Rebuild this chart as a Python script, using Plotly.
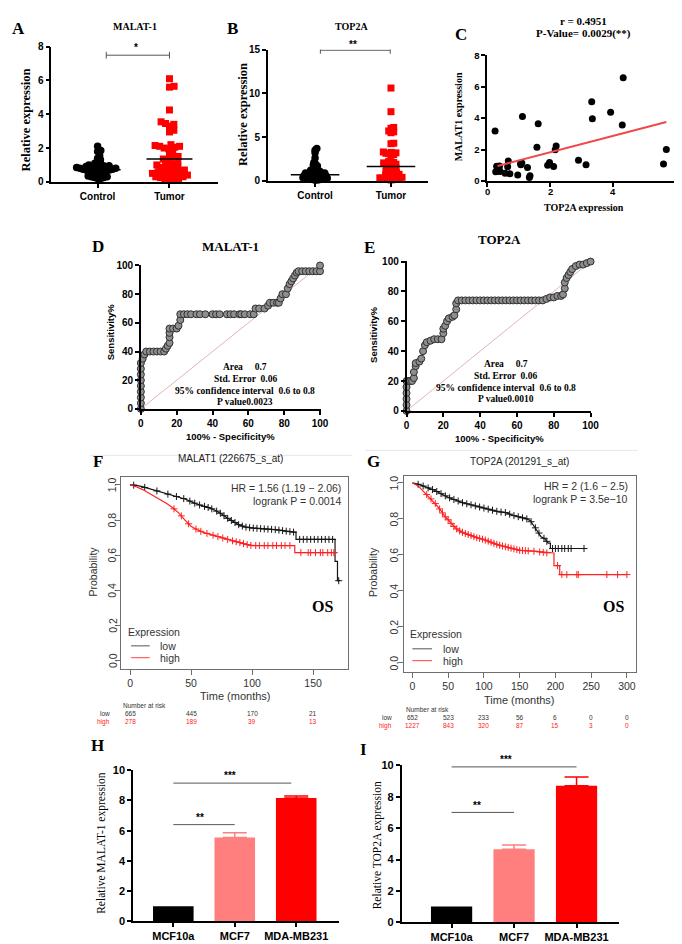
import numpy as np
import plotly.graph_objects as go

W, H = 682, 944

# ---------------- data ----------------
groups = ["Control", "Tumor"]
a_control = [2.1, 1.85, 1.8, 1.55, 1.4, 1.3, 1.2, 1.1, 1.05, 1.0, 1.0, 0.95, 0.95, 0.9, 0.9, 0.9,
             0.85, 0.85, 0.85, 0.8, 0.8, 0.8, 0.8, 0.75, 0.75, 0.75, 0.7, 0.7, 0.7, 0.7, 0.65, 0.65,
             0.6, 0.6, 0.55, 0.5, 0.5, 0.45, 0.4, 0.35, 0.3, 0.3, 0.25, 0.25, 0.2, 0.2]
a_tumor = [6.1, 5.65, 5.6, 4.25, 3.55, 3.45, 3.4, 3.3, 3.05, 2.95, 2.2, 2.15, 2.1, 2.1, 2.05, 2.0,
           1.95, 1.8, 1.6, 1.5, 1.45, 1.35, 1.3, 1.2, 1.1, 1.05, 1.0, 0.95, 0.9, 0.85, 0.8, 0.75,
           0.7, 0.65, 0.6, 0.55, 0.5, 0.5, 0.45, 0.4, 0.4, 0.35, 0.3, 0.3, 0.25, 0.2, 0.15, 0.1, 0.1]
a_median = [0.72, 1.35]

b_control = [3.7, 3.5, 3.2, 2.6, 2.1, 1.9, 1.8, 1.7, 1.6, 1.3, 1.2, 1.1, 1.05, 1.0, 0.95, 0.9, 0.9,
             0.85, 0.8, 0.8, 0.75, 0.7, 0.7, 0.65, 0.6, 0.6, 0.55, 0.5, 0.5, 0.45, 0.45, 0.4, 0.4,
             0.35, 0.35, 0.3, 0.3, 0.25, 0.25, 0.2, 0.2, 0.15, 0.15, 0.1, 0.1]
b_tumor = [10.6, 7.9, 6.1, 6.0, 5.7, 5.6, 5.5, 4.3, 4.25, 3.3, 3.25, 3.2, 3.15, 3.1, 3.0, 2.9, 2.2,
           2.1, 2.05, 2.0, 2.0, 1.9, 1.8, 1.7, 1.6, 1.6, 1.5, 1.4, 1.3, 1.2, 1.1, 1.0, 0.95, 0.9,
           0.8, 0.75, 0.7, 0.6, 0.55, 0.5, 0.45, 0.4, 0.35, 0.3, 0.3, 0.25, 0.2, 0.2, 0.15, 0.1]
b_median = [0.7, 1.64]

c_top2a = [0.25, 1.12, 1.62, 1.58, 3.32, 3.34, 3.92, 4.32, 4.29, 5.60, 5.69, 2.90, 3.14, 2.19, 2.16,
           2.11, 1.98, 1.92, 1.28, 1.36, 1.34, 1.06, 1.10, 1.07, 0.67, 0.65, 0.72, 0.57, 0.39, 0.37,
           0.33, 0.41, 0.27, 0.30, 0.97]
c_malat1 = [3.18, 4.10, 3.64, 2.15, 5.05, 3.96, 4.37, 6.58, 3.56, 1.07, 2.00, 1.32, 1.02, 2.23, 1.98,
            0.92, 1.17, 1.00, 0.86, 0.32, 0.22, 1.10, 1.14, 1.03, 1.26, 0.90, 0.46, 0.49, 0.95, 0.80,
            0.62, 0.60, 0.58, 0.93, 0.37]
c_fit_x = [0.33, 5.69]
c_fit_y = [0.95, 3.75]
c_xticks = [0, 2, 4, 6]

d_fpr = [0, 0, 0, 0, 0, 0, 0, 0, 0, 1, 2, 3, 5, 7, 9, 11, 13, 14, 15, 16, 16, 16, 16, 18, 20, 21, 22, 22,
         24, 26, 28, 31, 33, 36, 40, 42, 44, 48, 50, 52, 55, 56, 58, 61, 63, 64, 66, 69, 71, 72, 74, 76,
         77, 78, 79, 81, 82, 83, 84, 85, 86, 87, 88, 90, 92, 94, 96, 98, 100, 100]
d_tpr = [0, 4, 8, 12, 16, 20, 24, 28, 32, 35, 38, 40, 40, 40, 40, 40, 40, 42, 44, 46, 50, 53, 56, 56, 56,
         58, 62, 66, 66, 66, 66, 66, 66, 66, 66, 66, 66, 66, 66, 66, 66, 66, 66, 66, 66, 70, 70, 70, 72,
         74, 74, 74, 74, 77, 80, 80, 84, 87, 89, 91, 93, 95, 96, 96, 96, 96, 96, 96, 96, 100]
d_stats = ["Area     0.7", "Std. Error  0.06", "95% confidence interval  0.6 to 0.8", "P value0.0023"]

e_fpr = [0, 0, 0, 0, 0, 0, 1, 2, 3, 4, 4, 5, 5, 7, 8, 9, 10, 11, 13, 15, 17, 19, 20, 20, 21, 22, 23, 25,
         26, 27, 27, 28, 30, 32, 34, 36, 38, 40, 42, 44, 46, 48, 50, 52, 54, 56, 58, 60, 62, 64, 66, 68,
         70, 72, 74, 76, 78, 80, 82, 84, 85, 86, 86, 87, 88, 89, 90, 92, 94, 96, 98, 100]
e_tpr = [0, 4, 8, 12, 16, 20, 20, 20, 20, 22, 26, 30, 32, 33, 35, 40, 44, 46, 47, 48, 48, 48, 52, 55, 57,
         60, 62, 63, 64, 68, 72, 74, 74, 74, 74, 74, 74, 74, 74, 74, 74, 74, 74, 74, 74, 74, 74, 74, 74,
         74, 74, 74, 74, 74, 74, 75, 76, 76, 77, 77, 78, 82, 86, 89, 91, 93, 95, 97, 98, 98, 99, 100]
e_stats = ["Area     0.7", "Std. Error  0.06", "95% confidence interval  0.6 to 0.8", "P value0.0010"]

# Kaplan-Meier (F: MALAT1, G: TOP2A)
f_low_t = [0, 5, 10, 15, 20, 25, 30, 35, 40, 45, 50, 55, 60, 65, 70, 75, 80, 85, 90, 95, 100, 110, 120,
           130, 136, 136, 168, 168, 170, 170, 172]
f_low_s = [1.0, 0.998, 0.99, 0.98, 0.97, 0.96, 0.95, 0.94, 0.93, 0.92, 0.905, 0.89, 0.88, 0.87, 0.855,
           0.835, 0.81, 0.79, 0.77, 0.76, 0.755, 0.75, 0.745, 0.735, 0.73, 0.69, 0.69, 0.565, 0.565,
           0.455, 0.455]
f_high_t = [0, 5, 10, 15, 20, 25, 30, 35, 40, 45, 50, 55, 60, 65, 70, 75, 80, 85, 90, 95, 100, 135, 135, 170]
f_high_s = [1.0, 0.99, 0.975, 0.955, 0.935, 0.915, 0.895, 0.87, 0.84, 0.80, 0.765, 0.745, 0.73, 0.72,
            0.71, 0.70, 0.69, 0.68, 0.672, 0.662, 0.655, 0.655, 0.615, 0.615]
f_low_cens = [3, 12, 22, 31, 38, 44, 49, 53, 57, 61, 64, 67, 71, 74, 77, 80, 83, 86, 89, 92, 95, 98, 101,
              104, 107, 110, 113, 116, 119, 122, 125, 128, 131, 134, 139, 142, 145, 148, 151, 154, 157,
              160, 163, 166, 171]
f_high_cens = [36, 42, 48, 54, 58, 63, 68, 72, 76, 80, 84, 87, 90, 93, 96, 99, 103, 106, 110, 113, 117,
               120, 124, 127, 131, 140, 146, 148, 152, 156, 158, 162, 165, 167]
f_ticks = [0, 50, 100, 150]
f_risk_low = ["665", "445", "170", "21"]
f_risk_high = ["278", "189", "39", "13"]
f_hr = ["HR = 1.56 (1.19 \u2212 2.06)", "logrank P = 0.0014"]

g_low_t = [0, 10, 20, 30, 40, 50, 60, 70, 80, 90, 100, 110, 120, 130, 140, 150, 160, 165, 170, 175,
           180, 185, 190, 193, 193, 240]
g_low_s = [1.0, 0.99, 0.975, 0.96, 0.94, 0.92, 0.905, 0.89, 0.88, 0.87, 0.86, 0.85, 0.84, 0.835, 0.82,
           0.81, 0.80, 0.79, 0.76, 0.735, 0.70, 0.69, 0.665, 0.665, 0.635, 0.635]
g_high_t = [0, 5, 10, 15, 20, 25, 30, 35, 40, 45, 50, 55, 60, 65, 70, 80, 90, 100, 110, 120, 130, 140,
            150, 170, 190, 198, 198, 206, 206, 300]
g_high_s = [1.0, 0.99, 0.975, 0.955, 0.935, 0.915, 0.895, 0.87, 0.845, 0.815, 0.795, 0.77, 0.75, 0.735,
            0.725, 0.71, 0.695, 0.685, 0.67, 0.655, 0.645, 0.635, 0.625, 0.62, 0.61, 0.61, 0.54, 0.54,
            0.49, 0.49]
g_low_cens = [8, 15, 22, 28, 34, 40, 46, 52, 58, 64, 70, 76, 82, 88, 94, 100, 106, 112, 118, 124, 130,
              136, 142, 148, 154, 160, 166, 172, 177, 184, 188, 196, 200, 204, 209, 213, 218, 222, 240]
g_high_cens = [20, 26, 32, 38, 42, 46, 50, 54, 58, 62, 66, 70, 74, 78, 82, 86, 90, 94, 98, 102, 106,
               110, 114, 118, 122, 126, 130, 134, 138, 142, 146, 150, 154, 158, 162, 170, 178, 183, 188,
               203, 209, 216, 230, 232, 272, 287, 300]
g_ticks = [0, 50, 100, 150, 200, 250, 300]
g_risk_low = ["652", "523", "233", "56", "6", "0", "0"]
g_risk_high = ["1227", "843", "320", "87", "15", "3", "0"]
g_hr = ["HR = 2 (1.6 \u2212 2.5)", "logrank P = 3.5e\u221210"]
km_prob_ticks = [0.0, 0.2, 0.4, 0.6, 0.8, 1.0]

cell_lines = ["MCF10a", "MCF7", "MDA-MB231"]
h_values = [1.0, 5.55, 8.17]
h_err = [0.0, 0.32, 0.13]
i_values = [1.0, 4.65, 8.7]
i_err = [0.0, 0.27, 0.55]
bar_colors = ["#000000", "#ff7f7f", "#ff0000"]

# ---------------- helpers ----------------
SERIF = "Liberation Serif"
SANS = "Liberation Sans"

fig = go.Figure()
layout = dict(width=W, height=H, margin=dict(l=0, r=0, t=0, b=0), showlegend=False,
              paper_bgcolor="white", plot_bgcolor="white", font=dict(family=SANS, color="black"))
annotations = []
shapes = []


def sfx(n):
    return "" if n == 1 else str(n)


def make_axes(n, xl, xr, yb, yt, xrange, yrange, xstyle, ystyle):
    xa = dict(domain=[xl / W, xr / W], anchor="y" + sfx(n), range=xrange, ticklabeloverflow="allow")
    ya = dict(domain=[1 - yb / H, 1 - yt / H], anchor="x" + sfx(n), range=yrange, ticklabeloverflow="allow")
    xa.update(xstyle)
    ya.update(ystyle)
    layout["xaxis" + sfx(n)] = xa
    layout["yaxis" + sfx(n)] = ya


def ann(x, y, text, size, family=SANS, bold=False, color="black", angle=0, xanchor="center",
        yanchor="middle", xref="paper", yref="paper"):
    if xref == "paper":
        x = x / W
    if yref == "paper":
        y = 1 - y / H
    annotations.append(dict(x=x, y=y, xref=xref, yref=yref, text=text, showarrow=False,
                            textangle=angle, xanchor=xanchor, yanchor=yanchor,
                            font=dict(family=family, size=size, color=color,
                                      weight="bold" if bold else "normal")))


def gp_style(size=10, tickvals=None, ticktext=None, labels=True):
    st = dict(showline=True, linecolor="black", linewidth=1.5, ticks="outside", ticklen=4,
              tickwidth=1.5, tickcolor="black", showgrid=False, zeroline=False, showticklabels=labels,
              tickfont=dict(family=SANS, size=size, color="black", weight="bold"))
    if tickvals is not None:
        st["tickvals"] = tickvals
    if ticktext is not None:
        st["ticktext"] = ticktext
    return st


def km_style(tickvals, labels=True):
    return dict(showline=True, mirror=True, linecolor="#6e6e6e", linewidth=1, ticks="outside",
                ticklen=5, tickcolor="#6e6e6e", showgrid=False, zeroline=False, tickvals=tickvals,
                showticklabels=labels, tickfont=dict(family=SANS, size=10.5, color="#333333"))


def swarm(vals, ypx, xpx, d):
    vals = np.asarray(vals, dtype=float)
    order = np.argsort(vals)
    placed = []
    offs = np.zeros(len(vals))
    for i in order:
        y = vals[i] * ypx
        cands = [0.0]
        for xo, yo in placed:
            dy = abs(y - yo)
            if dy < d:
                dx = np.sqrt(d * d - dy * dy)
                cands += [xo + dx, xo - dx]
        cands.sort(key=abs)
        chosen = 0.0
        for c in cands:
            if all((c - xo) ** 2 + (y - yo) ** 2 >= d * d - 1e-6 for xo, yo in placed):
                chosen = c
                break
        placed.append((chosen, y))
        offs[i] = chosen
    return offs / xpx


def scatter_panel(n, ctrl, tum, med, xpx, ypx, ymax, sig_x, sig_y, sig_tick, star, star_xy, dd):
    xa, ya = "x" + sfx(n), "y" + sfx(n)
    for gi, (vals, sym, col) in enumerate([(ctrl, "circle", "black"), (tum, "square", "#ff0000")]):
        xs = gi + 1 + swarm(vals, ypx, xpx, dd[gi])
        fig.add_trace(go.Scatter(x=xs, y=vals, mode="markers", xaxis=xa, yaxis=ya, cliponaxis=False,
                                 marker=dict(symbol=sym, size=7.5 if gi == 0 else 7, color=col,
                                             line=dict(width=0))))
    for gi, m in enumerate(med):
        fig.add_trace(go.Scatter(x=[gi + 1 - 0.32, gi + 1 + 0.32], y=[m, m], mode="lines", xaxis=xa,
                                 yaxis=ya, line=dict(color="black", width=1.5)))
    fig.add_trace(go.Scatter(
        x=[sig_x[0], sig_x[1], None, sig_x[0], sig_x[0], None, sig_x[1], sig_x[1]],
        y=[sig_y, sig_y, None, sig_y - sig_tick, sig_y + sig_tick, None, sig_y - sig_tick, sig_y + sig_tick],
        mode="lines", xaxis=xa, yaxis=ya, cliponaxis=False, line=dict(color="#555555", width=1)))
    ann(star_xy[0], star_xy[1] / ymax, star, 10, bold=True, xref=xa, yref=ya + " domain")


# ---------------- A ----------------
make_axes(1, 41, 210, 170, 33, [0.356, 2.67], [0, 8],
          gp_style(10, [1, 2], groups), gp_style(10, [0, 2, 4, 6, 8]))
scatter_panel(1, a_control, a_tumor, a_median, 73, 17.125, 8, [1.12, 2.0], 7.49, 0.2, "*", (1.54, 7.92),
              (3.3, 4.8))

# ---------------- B ----------------
make_axes(2, 261, 424, 169, 36, [0.377, 2.49], [0, 15],
          gp_style(10, [1, 2], groups), gp_style(10, [0, 5, 10, 15]))
scatter_panel(2, b_control, b_tumor, b_median, 77, 8.87, 15, [1.07, 1.99], 14.92, 0.4, "**", (1.5, 15.55),
              (2.5, 2.9))

# ---------------- C ----------------
make_axes(3, 484, 676, 169, 42, [0, 6.0], [0, 8],
          gp_style(9.5, c_xticks, labels=False), gp_style(9.5, [0, 2, 4, 6, 8]))
fig.add_trace(go.Scatter(x=c_top2a, y=c_malat1, mode="markers", xaxis="x3", yaxis="y3", cliponaxis=False,
                         marker=dict(size=7, color="black")))
fig.add_trace(go.Scatter(x=c_fit_x, y=c_fit_y, mode="lines", xaxis="x3", yaxis="y3",
                         line=dict(color="#f04848", width=2)))
for tv in c_xticks:
    ann(tv, 180, str(tv), 9.5, bold=True, xref="x3")

# ---------------- D & E (ROC) ----------------
for n, fx, fy, stats, box, cx, sy in [(4, d_fpr, d_tpr, d_stats, (132, 315, 400, 254), 238, [358, 370, 382, 393]),
                                      (5, e_fpr, e_tpr, e_stats, (402, 590, 402, 250), 503, [355, 367, 379, 390])]:
    make_axes(n, box[0], box[1], box[2], box[3], [0, 100.5], [0, 100.5],
              gp_style(10, [0, 20, 40, 60, 80, 100]), gp_style(10, [0, 20, 40, 60, 80, 100]))
    xa, ya = "x" + sfx(n), "y" + sfx(n)
    fig.add_trace(go.Scatter(x=[0, 100], y=[0, 100], mode="lines", xaxis=xa, yaxis=ya,
                             line=dict(color="#e2b4b4", width=1)))
    fig.add_trace(go.Scatter(x=fx, y=fy, mode="lines+markers", xaxis=xa, yaxis=ya, cliponaxis=False,
                             line=dict(color="#3c3c3c", width=1.5),
                             marker=dict(size=7, color="#8e8e8e", line=dict(color="#303030", width=1))))
    for txt, yy in zip(stats, sy):
        ann(cx, yy, txt, 9.5, family=SERIF, bold=True)

# ---------------- F & G (Kaplan-Meier) ----------------
km_cfg = [
    (6, (112, 343, 663, 469), [-7.26, 179.0], [-0.045, 1.045], f_low_t, f_low_s, f_high_t, f_high_s,
     f_low_cens, f_high_cens, f_ticks, f_risk_low, f_risk_high, f_hr,
     dict(title=(223, 450, "MALAT1 (226675_s_at)"), hr=(337, 480, 493), os=(317, 600), prob=(83, 565),
          ylab=103, time=(228, 691), risk=(112, 700, 708, 717, 103),
          leg=(117, 626, 122, 141, 149, 640, 652))),
    (7, (399, 635, 666, 468), [-12.4, 312.4], [-0.049, 1.038], g_low_t, g_low_s, g_high_t, g_high_s,
     g_low_cens, g_high_cens, g_ticks, g_risk_low, g_risk_high, g_hr,
     dict(title=(517, 453, "TOP2A (201291_s_at)"), hr=(629, 478, 491), os=(612, 600), prob=(368, 565),
          ylab=389, time=(517, 695), risk=(399, 704, 713, 721, 389),
          leg=(404, 628, 408, 428, 437, 643, 655))),
]
for (n, box, xr, yr, lt, ls, ht, hs, lc, hc, ticks, rl, rh, hr, pos) in km_cfg:
    make_axes(n, box[0], box[1], box[2], box[3], xr, yr,
              km_style(ticks), km_style(km_prob_ticks, labels=False))
    xa, ya = "x" + sfx(n), "y" + sfx(n)
    for t, s, cens, col in [(lt, ls, lc, "#151515"), (ht, hs, hc, "#ff2020")]:
        fig.add_trace(go.Scatter(x=t, y=s, mode="lines", xaxis=xa, yaxis=ya,
                                 line=dict(color=col, width=1.2)))
        cy = np.interp(cens, t, s)
        fig.add_trace(go.Scatter(x=cens, y=cy, mode="markers", xaxis=xa, yaxis=ya,
                                 marker=dict(symbol="cross-thin", size=5, line=dict(color=col, width=1))))
    for tv in km_prob_ticks:
        ann(pos["ylab"], tv, f"{tv:.1f}", 10.5, color="#333333", angle=-90, yref=ya)
    ann(pos["title"][0], pos["title"][1], pos["title"][2], 10, color="#222222")
    ann(pos["hr"][0], pos["hr"][1], hr[0], 10.5, color="#333333", xanchor="right")
    ann(pos["hr"][0], pos["hr"][2], hr[1], 10.5, color="#333333", xanchor="right")
    ann(pos["os"][0], pos["os"][1], "OS", 16, family=SERIF, bold=True)
    ann(pos["prob"][0], pos["prob"][1], "Probability", 10.5, color="#333333", angle=-90)
    ann(pos["time"][0], pos["time"][1], "Time (months)", 11, color="#333333")
    r = pos["risk"]
    ann(r[0], r[1], "Number at risk", 6.5, color="#333333", xanchor="left")
    ann(r[4], r[2], "low", 6.5, color="#333333", xanchor="right")
    ann(r[4], r[3], "high", 6.5, color="#ff2020", xanchor="right")
    for tv, lo, hi in zip(ticks, rl, rh):
        ann(tv, r[2], lo, 6.5, color="#333333", xref=xa)
        ann(tv, r[3], hi, 6.5, color="#ff2020", xref=xa)
    lg = pos["leg"]
    ann(lg[0], lg[1], "Expression", 10.5, color="#333333", xanchor="left")
    ann(lg[4], lg[5], "low", 10.5, color="#333333", xanchor="left")
    ann(lg[4], lg[6], "high", 10.5, color="#333333", xanchor="left")
    shapes.append(dict(type="line", xref="paper", yref="paper", x0=lg[2] / W, x1=lg[3] / W,
                       y0=1 - lg[5] / H, y1=1 - lg[5] / H, line=dict(color="#555555", width=1)))
    shapes.append(dict(type="line", xref="paper", yref="paper", x0=lg[2] / W, x1=lg[3] / W,
                       y0=1 - lg[6] / H, y1=1 - lg[6] / H, line=dict(color="#ff4040", width=1)))

# faint separators above F and G
shapes.append(dict(type="line", xref="paper", yref="paper", x0=80 / W, x1=347 / W, y0=1 - 447 / H,
                   y1=1 - 447 / H, line=dict(color="#e6e6e6", width=1)))
shapes.append(dict(type="line", xref="paper", yref="paper", x0=360 / W, x1=637 / W, y0=1 - 442 / H,
                   y1=1 - 442 / H, line=dict(color="#e6e6e6", width=1)))

# ---------------- H & I (bars) ----------------
bar_cfg = [
    (8, (124, 333, 919, 766), [-0.656, 2.69], h_values, h_err,
     [(0.0, 1.0, 6.4, "**", 0.43, 6.85), (0.0, 1.92, 9.15, "***", 0.93, 9.65)]),
    (9, (397, 618, 920, 761), [-0.8, 2.68], i_values, i_err,
     [(0.0, 1.0, 7.0, "**", 0.4, 7.45), (0.0, 2.0, 9.9, "***", 0.87, 10.35)]),
]
for n, box, xr, vals, errs, sigs in bar_cfg:
    make_axes(n, box[0], box[1], box[2], box[3], xr, [0, 10],
              gp_style(11, [0, 1, 2], cell_lines), gp_style(11, [0, 2, 4, 6, 8, 10]))
    xa, ya = "x" + sfx(n), "y" + sfx(n)
    for k in range(3):
        fig.add_trace(go.Bar(x=[k], y=[vals[k]], width=0.66, xaxis=xa, yaxis=ya,
                             marker=dict(color=bar_colors[k], line=dict(width=0)),
                             error_y=dict(type="data", symmetric=False, array=[errs[k]], arrayminus=[0],
                                          color=bar_colors[k], thickness=1.5, width=12,
                                          visible=errs[k] > 0)))
    for x0, x1, yv, star, sx, sy in sigs:
        fig.add_trace(go.Scatter(x=[x0, x1], y=[yv, yv], mode="lines", xaxis=xa, yaxis=ya,
                                 cliponaxis=False, line=dict(color="#555555", width=1)))
        ann(sx, sy / 10, star, 10, bold=True, xref=xa, yref=ya + " domain")

# ---------------- text ----------------
for letter, x, y in [("A", 8, 15), ("B", 225, 15), ("C", 457, 21), ("D", 88, 235), ("E", 364, 236),
                     ("F", 88, 453), ("G", 368, 453), ("H", 88, 741), ("I", 358, 745)]:
    ann(x, y, letter, 17, family=SERIF, bold=True)

ann(126, 13, "MALAT-1", 10, family=SERIF, bold=True)
ann(346, 13, "TOP2A", 10, family=SERIF, bold=True)
ann(582, 7, "r = 0.4951", 11, family=SERIF, bold=True)
ann(582, 20, "P-Value= 0.0029(**)", 11, family=SERIF, bold=True)
ann(223, 235, "MALAT-1", 13, family=SERIF, bold=True)
ann(497, 228, "TOP2A", 13, family=SERIF, bold=True)

ann(15, 107, "Relative expression", 12.5, family=SERIF, bold=True, angle=-90)
ann(235, 102, "Relative expression", 12.5, family=SERIF, bold=True, angle=-90)
ann(455, 104, "MALAT1 expression", 10, family=SERIF, bold=True, angle=-90)
ann(582, 196, "TOP2A expression", 10, family=SERIF, bold=True)
ann(102, 322, "Sensitivity%", 9.5, bold=True, angle=-90)
ann(223, 428, "100% - Specificity%", 9.5, bold=True)
ann(369, 325, "Sensitivity%", 9.5, bold=True, angle=-90)
ann(496, 430, "100% - Specificity%", 9.5, bold=True)
ann(92, 840, "Relative MALAT-1 expression", 11.5, family=SERIF, angle=-90)
ann(372, 842, "Relative TOP2A expression", 11.5, family=SERIF, angle=-90)

layout["annotations"] = annotations
layout["shapes"] = shapes
fig.update_layout(**layout)
fig.write_html("out.html")
